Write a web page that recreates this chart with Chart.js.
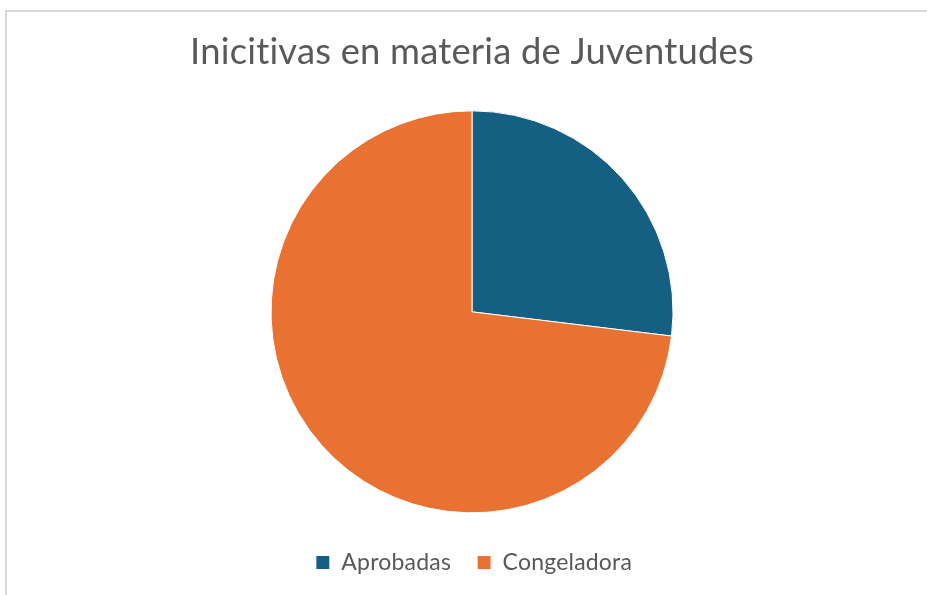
<!DOCTYPE html>
<html lang="es">
<head>
<meta charset="UTF-8">
<title>Inicitivas en materia de Juventudes</title>
<script src="https://cdn.jsdelivr.net/npm/chart.js@4/dist/chart.umd.min.js"></script>
<style>
    html, body { margin: 0; padding: 0; background: #fff; }
    #wrap { position: relative; width: 927px; height: 595px; overflow: hidden; }
    #frame { position: absolute; left: 5px; top: 10px; width: 940px; height: 600px;
             border-left: 2px solid #d9d9d9; border-top: 2px solid #d9d9d9; }
    canvas { position: absolute; left: 0; top: 0; }
</style>
</head>
<body>
<div id="wrap">
    <div id="frame"></div>
    <canvas id="chart" width="927" height="595"></canvas>
</div>
<script>
    // datos
    const chartTitle = 'Inicitivas en materia de Juventudes';
    const categorias = ['Aprobadas', 'Congeladora'];
    const iniciativas = [7, 19];
    const colores = ['#156082', '#E97132'];

    const fuente = "Lato, 'Open Sans', sans-serif";

    // sin ligaduras (ti) en el texto
    const sinLigaduras = {
        id: 'sinLigaduras',
        beforeDraw(chart) { chart.ctx.letterSpacing = '0.2px'; }
    };

    new Chart(document.getElementById('chart'), {
        type: 'pie',
        data: {
            labels: categorias,
            datasets: [{
                data: iniciativas,
                backgroundColor: colores,
                borderColor: '#ffffff',
                borderWidth: 1,
                radius: 201
            }]
        },
        options: {
            responsive: false,
            animation: false,
            layout: { padding: { left: 17, right: 0, top: 0, bottom: 11 } },
            plugins: {
                title: {
                    display: true,
                    text: chartTitle,
                    color: '#595959',
                    font: { family: fuente, size: 36.4, weight: 'normal' },
                    padding: { top: 30, bottom: 25 }
                },
                legend: {
                    position: 'bottom',
                    labels: {
                        color: '#595959',
                        font: { family: fuente, size: 23 },
                        boxWidth: 14,
                        boxHeight: 14,
                        padding: 26
                    }
                },
                tooltip: { enabled: false }
            }
        },
        plugins: [sinLigaduras]
    });
</script>
</body>
</html>
